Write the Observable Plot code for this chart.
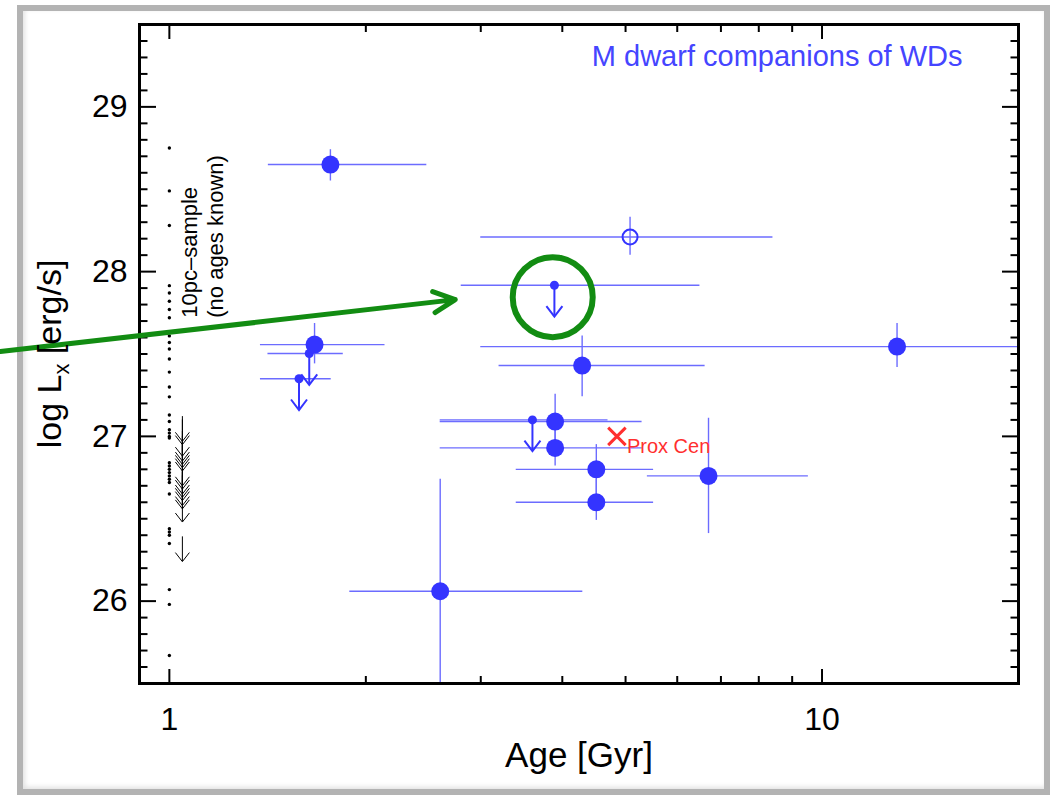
<!DOCTYPE html>
<html>
<head>
<meta charset="utf-8">
<script src="https://cdn.jsdelivr.net/npm/d3@7"></script>
<script src="https://cdn.jsdelivr.net/npm/@observablehq/plot@0.6"></script>
<style>
  body { margin: 0; background: #fff; }
  #wrap { position: relative; width: 1050px; height: 795px; overflow: hidden; }
  #border { position: absolute; left: 17px; top: 5px; width: 1033px; height: 790px;
            border: 6px solid #b3b3b3; box-sizing: border-box;
            box-shadow: inset 2px -2px 5px rgba(0,0,0,0.12); }
  #wrap svg { position: absolute; left: 0; top: 0; }
</style>
</head>
<body>
<div id="wrap"><div id="border"></div></div>
<script>
// M dwarf companions of white dwarfs: detections (age, log Lx with ranges)
const detAge   = [1.765, 1.669, 13.03, 4.29, 3.90, 3.90, 4.51, 4.51, 6.70, 2.60];
const detAgeLo = [1.418, 1.379, 3.00, 3.20, 2.60, 2.60, 3.40, 3.40, 5.40, 1.89];
const detAgeHi = [2.48, 2.14, 30.0, 6.62, 5.30, 5.30, 5.52, 5.52, 9.53, 4.30];
const detLx    = [28.65, 27.557, 27.545, 27.43, 27.09, 26.93, 26.80, 26.60, 26.76, 26.06];
const detLxLo  = [28.55, 27.44, 27.418, 27.24, 26.92, 26.82, 26.65, 26.49, 26.41, 25.0];
const detLxHi  = [28.74, 27.685, 27.685, 27.61, 27.255, 27.04, 26.95, 26.74, 27.11, 26.74];

// Open symbol
const openAge = [5.08], openAgeLo = [3.0], openAgeHi = [8.41];
const openLx = [28.21], openLxLo = [28.10], openLxHi = [28.33];

// Upper limits
const limAge   = [3.89, 1.638, 1.58, 3.60];
const limAgeLo = [2.80, 1.416, 1.379, 2.60];
const limAgeHi = [6.50, 1.847, 1.77, 4.70];
const limLx    = [27.917, 27.503, 27.35, 27.10];
const limDrop  = 0.19;

// 10 pc sample, no ages known: detections and upper limits
const sampleAge = 1.0;
const sampleLx = [28.75, 28.49, 28.28, 27.915, 27.87, 27.82, 27.77, 27.72, 27.61, 27.57,
                  27.53, 27.47, 27.39, 27.30, 27.24, 27.13, 27.09, 27.04, 27.02, 27.00,
                  26.99, 26.84, 26.82, 26.80, 26.78, 26.76, 26.74, 26.72, 26.65, 26.44,
                  26.42, 26.40, 26.35, 26.07, 25.98, 25.67];
const sampleLimAge = 1.047;
const sampleLimLx = [27.12, 27.10, 27.03, 27.00, 26.98, 26.96, 26.94, 26.85, 26.83, 26.80,
                     26.78, 26.76, 26.73, 26.71, 26.63, 26.39];
const sampleDrop = 0.15;

// Proxima Centauri
const proxAge = [4.85], proxLx = [27.0], proxName = ["Prox Cen"];

// Highlight: pointer arrow and ring around one upper limit
const pointerFrom = [0.551, 27.515], pointerTo = [2.742, 27.83];
const ringAt = [3.867, 27.845];

// Axis ticks
const xMajor = [1, 10];
const xMinor = [2, 3, 4, 5, 6, 7, 8, 9, 20];
const yMajor = [26, 27, 28, 29];
const yMinor = d3.range(256, 295).filter(d => d % 10 !== 0).map(d => d / 10);

const blue = "#3434ff", barBlue = "#6c6cff", red = "#ff2f2f", green = "#128c12";
const font = "'Liberation Sans', Arial, Helvetica, sans-serif";

const det = detAge.map((a, i) => ({age: a, lo: detAgeLo[i], hi: detAgeHi[i], lx: detLx[i], lxLo: detLxLo[i], lxHi: detLxHi[i]}));
const opn = openAge.map((a, i) => ({age: a, lo: openAgeLo[i], hi: openAgeHi[i], lx: openLx[i], lxLo: openLxLo[i], lxHi: openLxHi[i]}));
const lim = limAge.map((a, i) => ({age: a, lo: limAgeLo[i], hi: limAgeHi[i], lx: limLx[i], end: limLx[i] - limDrop}));
const sample = sampleLx.map(v => ({age: sampleAge, lx: v}));
const sampleLim = sampleLimLx.map(v => ({age: sampleLimAge, lx: v, end: v - sampleDrop}));
const prox = proxAge.map((a, i) => ({age: a, lx: proxLx[i], name: proxName[i]}));

// open V arrowhead with its tip at the origin, wings pointing up
const vHead = (spread, depth) => ({
  draw(context) {
    context.moveTo(-spread, -depth);
    context.lineTo(0, 0);
    context.lineTo(spread, -depth);
  }
});

const chart = Plot.plot({
  width: 1050, height: 795,
  marginLeft: 139, marginRight: 32, marginTop: 24, marginBottom: 112,
  style: {fontFamily: font, background: "transparent", overflow: "visible", color: "black"},
  x: {type: "log", domain: [0.9, 20]},
  y: {domain: [25.5, 29.5]},
  marks: [
    // inward ticks on all four sides
    Plot.axisX(xMajor, {anchor: "bottom", tickSize: -14, tickPadding: 38, fontSize: 32, strokeWidth: 2, label: null, tickFormat: d => String(d)}),
    Plot.axisX(xMinor, {anchor: "bottom", tickSize: -7, strokeWidth: 2, fill: "none", label: null}),
    Plot.axisX(xMajor, {anchor: "top", tickSize: -14, strokeWidth: 2, fill: "none", label: null}),
    Plot.axisX(xMinor, {anchor: "top", tickSize: -7, strokeWidth: 2, fill: "none", label: null}),
    Plot.axisY(yMajor, {anchor: "left", tickSize: -17, tickPadding: 29, fontSize: 32, strokeWidth: 2, label: null, tickFormat: d => String(d)}),
    Plot.axisY(yMinor, {anchor: "left", tickSize: -8.5, strokeWidth: 2, fill: "none", label: null}),
    Plot.axisY(yMajor, {anchor: "right", tickSize: -17, strokeWidth: 2, fill: "none", label: null}),
    Plot.axisY(yMinor, {anchor: "right", tickSize: -8.5, strokeWidth: 2, fill: "none", label: null}),

    // 10 pc sample
    Plot.dot(sample, {x: "age", y: "lx", r: 1.7, fill: "black"}),
    Plot.ruleX(sampleLim, {x: "age", y1: "lx", y2: "end", stroke: "black", strokeWidth: 1}),
    Plot.dot(sampleLim, {x: "age", y: "end", symbol: vHead(7, 9), stroke: "black", strokeWidth: 1, fill: "none"}),
    Plot.text(["10pc\u2013sample\n(no ages known)"], {x: 1.12, y: 27.72, text: d => d, rotate: -90, textAnchor: "start", lineAnchor: "middle", lineHeight: 1.2, fontSize: 22, fill: "black"}),

    // error bars
    Plot.ruleY(det, {y: "lx", x1: "lo", x2: "hi", stroke: barBlue, strokeWidth: 1.4, clip: true}),
    Plot.ruleX(det, {x: "age", y1: "lxLo", y2: "lxHi", stroke: barBlue, strokeWidth: 1.4, clip: true}),
    Plot.ruleY(opn, {y: "lx", x1: "lo", x2: "hi", stroke: barBlue, strokeWidth: 1.4, clip: true}),
    Plot.ruleX(opn, {x: "age", y1: "lxLo", y2: "lxHi", stroke: barBlue, strokeWidth: 1.4, clip: true}),
    Plot.ruleY(lim, {y: "lx", x1: "lo", x2: "hi", stroke: barBlue, strokeWidth: 1.4, clip: true}),

    // upper limits
    Plot.ruleX(lim, {x: "age", y1: "lx", y2: "end", stroke: blue, strokeWidth: 2}),
    Plot.dot(lim, {x: "age", y: "end", symbol: vHead(8, 10.5), stroke: blue, strokeWidth: 2, fill: "none"}),
    Plot.dot(lim, {x: "age", y: "lx", r: 4.5, fill: blue}),

    // detections
    Plot.dot(det, {x: "age", y: "lx", r: 9, fill: blue}),
    Plot.dot(opn, {x: "age", y: "lx", r: 7.5, stroke: blue, strokeWidth: 2, fill: "none"}),

    // Proxima Centauri
    Plot.dot(prox, {x: "age", y: "lx", symbol: "times", r: 8, stroke: red, strokeWidth: 3}),
    Plot.text(prox, {x: "age", y: "lx", text: "name", dx: 10, dy: 10, textAnchor: "start", fontSize: 20, fill: red}),

    // annotations
    Plot.text(["M dwarf companions of WDs"], {frameAnchor: "top-right", dx: -56, dy: 32, text: d => d, textAnchor: "end", lineAnchor: "middle", fontSize: 29, fill: "#4545ff"}),
    Plot.text(["Age [Gyr]"], {frameAnchor: "bottom", dy: 72, text: d => d, lineAnchor: "middle", fontSize: 35, fill: "black"}),

    Plot.frame({stroke: "black", strokeWidth: 3}),

    Plot.arrow([{x1: pointerFrom[0], y1: pointerFrom[1], x2: pointerTo[0], y2: pointerTo[1]}],
      {x1: "x1", y1: "y1", x2: "x2", y2: "y2", stroke: green, strokeWidth: 5, headLength: 7.2, headAngle: 52, ariaLabel: "pointer"}),
    Plot.dot([{x: ringAt[0], y: ringAt[1]}], {x: "x", y: "y", r: 40, stroke: green, strokeWidth: 6, fill: "none", ariaLabel: "ring"})
  ]
});

// y-axis title with subscript
const svg = d3.select(chart);
const yl = svg.append("text")
  .attr("transform", "translate(61,354) rotate(-90)")
  .attr("text-anchor", "middle")
  .attr("font-size", 34)
  .attr("font-family", font)
  .attr("fill", "black");
yl.append("tspan").text("log L");
yl.append("tspan").attr("font-size", 22).attr("dy", 8).text("x");
yl.append("tspan").attr("dy", -8).text(" [erg/s]");

svg.selectAll('g[aria-label="pointer"], g[aria-label="ring"]')
  .style("filter", "drop-shadow(2px 3px 2px rgba(0,0,0,0.25))");

document.getElementById("wrap").appendChild(chart);
</script>
</body>
</html>
